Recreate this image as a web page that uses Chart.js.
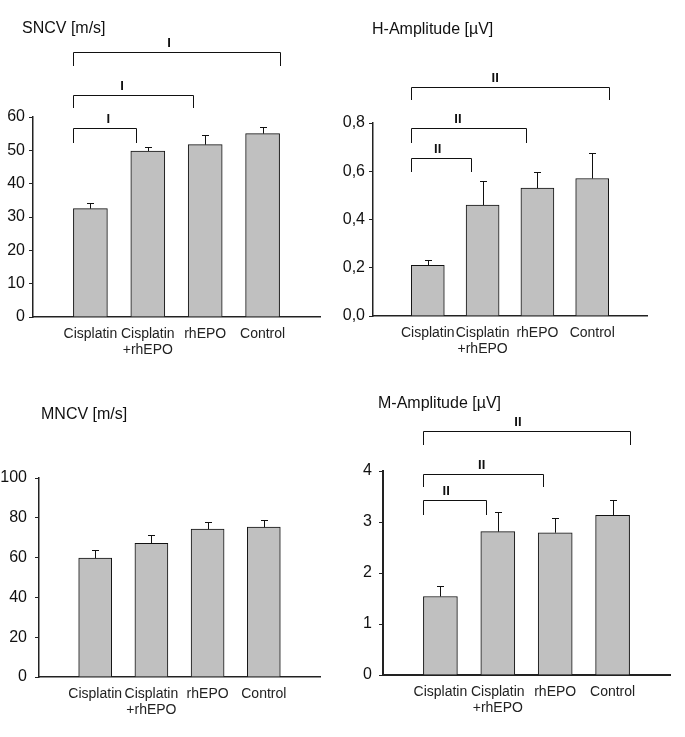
<!DOCTYPE html>
<html lang="en">
<head>
<meta charset="UTF-8">
<title>Nerve conduction and amplitudes</title>
<script src="https://cdn.jsdelivr.net/npm/chart.js"></script>
<style>
  body { margin: 0; background: #fff; font-family: 'Liberation Sans', Arial, sans-serif; }
  #page { position: relative; width: 685px; height: 737px; overflow: hidden; }
  .panel { position: absolute; }
  .panel canvas { position: absolute; left: 0; top: 0; }
  .title { position: absolute; font-size: 16px; line-height: 16px; color: #111; white-space: nowrap; }
</style>
</head>
<body>
<div id="page">
  <div class="panel" style="left:0;top:0;width:340px;height:370px">
    <canvas id="sncv" width="340" height="370"></canvas>
    <div class="title" style="left:22px;top:20px">SNCV [m/s]</div>
  </div>
  <div class="panel" style="left:340px;top:0;width:345px;height:370px">
    <canvas id="hamp" width="345" height="370"></canvas>
    <div class="title" style="left:32px;top:21px">H-Amplitude [µV]</div>
  </div>
  <div class="panel" style="left:0;top:370px;width:340px;height:367px">
    <canvas id="mncv" width="340" height="367"></canvas>
    <div class="title" style="left:41px;top:36px">MNCV [m/s]</div>
  </div>
  <div class="panel" style="left:340px;top:370px;width:345px;height:367px">
    <canvas id="mamp" width="345" height="367"></canvas>
    <div class="title" style="left:38px;top:25px">M-Amplitude [µV]</div>
  </div>
</div>
<script>
// group names (second one wraps onto two lines)
const categories = ['Cisplatin', ['Cisplatin', '+rhEPO'], 'rhEPO', 'Control'];

const sncvMean = [32.5, 49.8, 51.7, 55.0];
const sncvErr  = [1.8, 1.1, 2.8, 2.0];
const hAmpMean = [0.21, 0.46, 0.53, 0.57];
const hAmpErr  = [0.024, 0.10, 0.066, 0.104];
const mncvMean = [59.7, 67.2, 74.3, 75.3];
const mncvErr  = [4.0, 4.1, 3.8, 3.5];
const mAmpMean = [1.54, 2.81, 2.79, 3.13];
const mAmpErr  = [0.20, 0.39, 0.28, 0.30];

const sncvTicks = ['0', '10', '20', '30', '40', '50', '60'];
const hAmpTicks = ['0,0', '0,2', '0,4', '0,6', '0,8'];
const mncvTicks = ['0', '20', '40', '60', '80', '100'];
const mAmpTicks = ['0', '1', '2', '3', '4'];

// significance brackets: groups compared, bracket level, tip level, mark, mark position (group index)
const sncvSig = [
    { from: 0, to: 3, y: 79.5, tip: 75.3, mark: 'I', at: 1.37 },
    { from: 0, to: 2, y: 66.6, tip: 62.7, mark: 'I', at: 0.55 },
    { from: 0, to: 1, y: 56.7, tip: 52.2, mark: 'I', at: 0.31 }
];
const hAmpSig = [
    { from: 0, to: 3, y: 0.950, tip: 0.895, mark: 'II', at: 1.23 },
    { from: 0, to: 2, y: 0.778, tip: 0.718, mark: 'II', at: 0.55 },
    { from: 0, to: 1, y: 0.653, tip: 0.598, mark: 'II', at: 0.18 }
];
const mAmpSig = [
    { from: 0, to: 3, y: 4.78, tip: 4.51, mark: 'II', at: 1.35 },
    { from: 0, to: 2, y: 3.94, tip: 3.69, mark: 'II', at: 0.72 },
    { from: 0, to: 1, y: 3.43, tip: 3.14, mark: 'II', at: 0.10 }
];

const INK = '#111';

const errorBars = {
    id: 'errorBars',
    afterDatasetsDraw(chart) {
        const ctx = chart.ctx;
        const y = chart.scales.y;
        const ds = chart.data.datasets[0];
        const meta = chart.getDatasetMeta(0);
        ctx.save();
        ctx.strokeStyle = INK;
        ctx.lineWidth = 1;
        meta.data.forEach((bar, i) => {
            const v = ds.data[i];
            if (v == null) return;
            const x = Math.round(bar.x) + 0.5;
            const top = Math.round(y.getPixelForValue(v + ds.errors[i])) + 0.5;
            ctx.beginPath();
            ctx.moveTo(x, bar.y);
            ctx.lineTo(x, top);
            ctx.moveTo(x - 3.5, top);
            ctx.lineTo(x + 3.5, top);
            ctx.stroke();
        });
        ctx.restore();
    }
};

const brackets = {
    id: 'brackets',
    afterDraw(chart, args, opts) {
        const sig = opts.items || [];
        if (!sig.length) return;
        const ctx = chart.ctx;
        const x = chart.scales.x;
        const y = chart.scales.y;
        const meta = chart.getDatasetMeta(0);
        const last = chart.data.labels.length - 2;
        ctx.save();
        ctx.strokeStyle = INK;
        ctx.fillStyle = INK;
        ctx.lineWidth = 1;
        ctx.font = 'bold 13px "Liberation Sans", Arial, sans-serif';
        ctx.textAlign = 'center';
        ctx.textBaseline = 'bottom';
        sig.forEach(s => {
            const a = meta.data[s.from + 1];
            const b = meta.data[s.to + 1];
            const x1 = Math.round(a.x - a.width / 2) + 0.5;
            const x2 = Math.round(s.to + 1 === last ? b.x + b.width / 2 : b.x - b.width * 0.35) + 0.5;
            const yl = Math.round(y.getPixelForValue(s.y)) + 0.5;
            const yt = Math.round(y.getPixelForValue(s.tip));
            ctx.beginPath();
            ctx.moveTo(x1, yt);
            ctx.lineTo(x1, yl);
            ctx.lineTo(x2, yl);
            ctx.lineTo(x2, yt);
            ctx.stroke();
            ctx.fillText(s.mark, x.getPixelForValue(s.at + 1), yl - 3);
        });
        ctx.restore();
    }
};

function makePanel(id, geo, mean, err, yMax, step, tickLabels, sig) {
    const canvas = document.getElementById(id);
    return new Chart(canvas, {
        type: 'bar',
        data: {
            labels: ['', ...categories, ''],
            datasets: [{
                data: [null, ...mean, null],
                errors: [0, ...err, 0],
                backgroundColor: '#c0c0c0',
                borderColor: INK,
                borderWidth: 1,
                barThickness: geo.barW
            }]
        },
        options: {
            responsive: false,
            animation: false,
            layout: { padding: { top: geo.T, right: canvas.width - geo.R, left: 0, bottom: 0 } },
            plugins: {
                legend: { display: false },
                tooltip: { enabled: false },
                brackets: { items: sig }
            },
            scales: {
                x: {
                    offset: false,
                    grid: { display: false, drawTicks: false },
                    border: { display: true, color: '#222', width: geo.axW },
                    ticks: {
                        autoSkip: false, maxRotation: 0, minRotation: 0, padding: 9,
                        color: '#222',
                        font: { family: '"Liberation Sans", Arial, sans-serif', size: 14, lineHeight: 1.15 }
                    },
                    afterFit(s) { s.height = canvas.height - geo.B; }
                },
                y: {
                    min: 0, max: yMax,
                    grid: { display: true, drawOnChartArea: false, drawTicks: true, tickLength: 4, color: '#222' },
                    border: { display: true, color: '#222', width: geo.axW },
                    ticks: {
                        stepSize: step, padding: geo.tp, color: '#111',
                        font: { family: '"Liberation Sans", Arial, sans-serif', size: 16 },
                        callback: (v, i) => tickLabels[i]
                    },
                    afterFit(s) { s.width = geo.L; }
                }
            }
        },
        plugins: [errorBars, brackets]
    });
}

makePanel('sncv', { L: 33, R: 320, T: 117, B: 317, barW: 34, tp: 4, axW: 1.5 }, sncvMean, sncvErr, 60, 10, sncvTicks, sncvSig);
makePanel('hamp', { L: 33, R: 307, T: 123, B: 316, barW: 33, tp: 4, axW: 1.5 }, hAmpMean, hAmpErr, 0.8, 0.2, hAmpTicks, hAmpSig);
makePanel('mncv', { L: 39, R: 320, T: 108, B: 307, barW: 33, tp: 8, axW: 1.5 }, mncvMean, mncvErr, 100, 20, mncvTicks, []);
makePanel('mamp', { L: 43, R: 330, T: 101, B: 305, barW: 34, tp: 7, axW: 2 }, mAmpMean, mAmpErr, 4, 1, mAmpTicks, mAmpSig);
</script>
</body>
</html>
